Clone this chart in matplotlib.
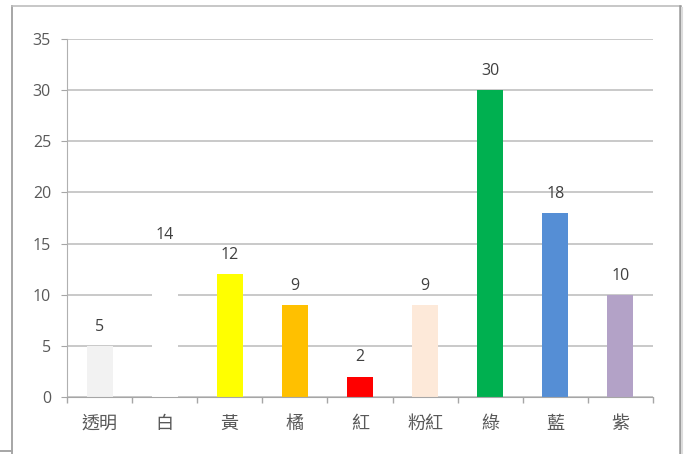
import matplotlib
matplotlib.use("Agg")
import matplotlib.pyplot as plt
from matplotlib.lines import Line2D

plt.rcParams['font.family'] = ['Noto Sans CJK TC', 'DejaVu Sans']

categories = ['透明', '白', '黃', '橘', '紅', '粉紅', '綠', '藍', '紫']
values = [5, 14, 12, 9, 2, 9, 30, 18, 10]
colors = ['#f2f2f2', '#ffffff', '#ffff00', '#ffc000', '#ff0000',
          '#fde9d9', '#00b050', '#558ed5', '#b3a2c7']
y_ticks = [0, 5, 10, 15, 20, 25, 30, 35]

W, H = 688, 454
fig = plt.figure(figsize=(W / 100, H / 100), dpi=100)
fig.patch.set_facecolor('white')


def fx(px):
    return px / W


def fy(py):
    return 1 - py / H


# chart frame (runs off the bottom edge)
frame = [
    ((fx(12), fx(12)), (fy(6), fy(460)), '#a6a6a6', 1.4),
    ((fx(12), fx(680)), (fy(6), fy(6)), '#bdbdbd', 1.2),
    ((fx(680), fx(680)), (fy(6), fy(460)), '#9a9a9a', 1.8),
    ((fx(682), fx(682)), (fy(8), fy(460)), '#dcdcdc', 1.5),
    ((fx(0), fx(12)), (fy(451), fy(451)), '#a6a6a6', 1.4),
]
for xs, ys, c, lw in frame:
    fig.add_artist(Line2D(xs, ys, transform=fig.transFigure, color=c, linewidth=lw))

ax = fig.add_axes([fx(67), fy(397), fx(653) - fx(67), fy(39) - fy(397)])
ax.set_zorder(2)
ax.set_facecolor('none')

x = range(len(categories))
ax.bar(x, values, width=0.4, color=colors, zorder=3)

num_font = ['Open Sans', 'DejaVu Sans']
for xi, v in zip(x, values):
    ax.annotate(str(v), (xi, v), xytext=(0, 8), textcoords='offset points',
                ha='center', va='bottom', fontsize=11.5, color='#404040',
                family=num_font)

ax.set_ylim(0, 35)
ax.set_xlim(-0.5, len(categories) - 0.5)
ax.set_yticks(y_ticks)
ax.set_yticklabels([str(t) for t in y_ticks], family=num_font)
ax.set_xticks(list(x))
ax.set_xticklabels(categories, fontsize=13)
ax.tick_params(axis='x', length=0, pad=13, colors='#595959')
ax.tick_params(axis='y', length=4.5, pad=7, colors='#595959', labelsize=11.5)
ax.tick_params(axis='y', color='#a6a6a6')

# category boundary ticks below the axis
ax.set_xticks([i - 0.5 for i in range(len(categories) + 1)], minor=True)
ax.tick_params(axis='x', which='minor', length=4.5, color='#a6a6a6', width=1)

ax.grid(axis='y', color='#c0c0c0', linewidth=1.2, zorder=1)
ax.set_axisbelow(True)
for side in ['top', 'right']:
    ax.spines[side].set_visible(False)
ax.spines['left'].set_color('#b0b0b0')
ax.spines['bottom'].set_color('#a6a6a6')
ax.spines['bottom'].set_zorder(4)

fig.savefig('out.png', dpi=100)
